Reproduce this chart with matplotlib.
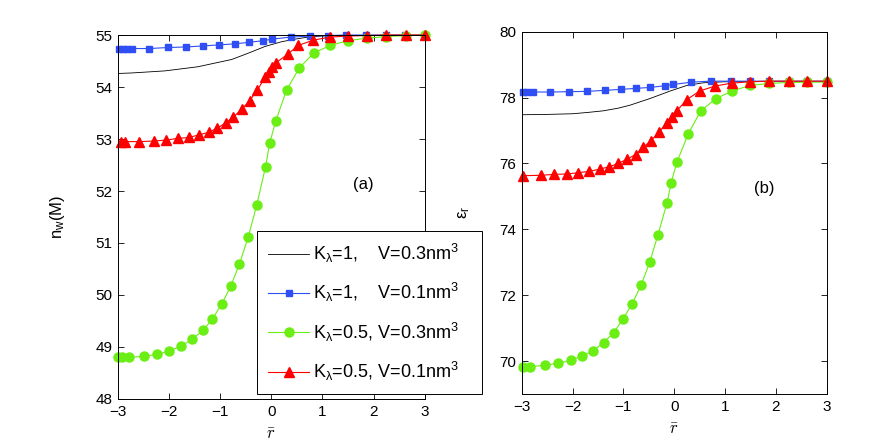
import matplotlib
matplotlib.use('Agg')
import matplotlib.pyplot as plt

plt.rcParams['font.family'] = ['Liberation Sans', 'DejaVu Sans']
plt.rcParams['mathtext.fontset'] = 'custom'
plt.rcParams['mathtext.rm'] = 'Liberation Sans'
plt.rcParams['mathtext.it'] = 'Liberation Sans:italic'

BLUE = '#2f4ff5'
GREEN = '#6aee14'
RED = '#ff0000'

labels = [r'K$_{\mathrm{\lambda}}$=1,    V=0.3nm$^3$',
          r'K$_{\mathrm{\lambda}}$=1,    V=0.1nm$^3$',
          r'K$_{\mathrm{\lambda}}$=0.5, V=0.3nm$^3$',
          r'K$_{\mathrm{\lambda}}$=0.5, V=0.1nm$^3$']

# ---- panel (a): n_w(M)
a_black_x = [-3.0, -2.73, -2.4, -2.08, -1.75, -1.43, -1.1, -0.77, -0.45, -0.12,
             0.2, 0.46, 0.72, 0.98, 1.5, 2.0, 3.0]
a_black_y = [54.26, 54.27, 54.29, 54.31, 54.35, 54.39, 54.46, 54.53, 54.65, 54.78,
             54.87, 54.92, 54.96, 54.98, 55.0, 55.0, 55.0]

a_blue_x = [-2.97, -2.9, -2.82, -2.73, -2.38, -2.01, -1.67, -1.33, -1.02, -0.71,
            -0.43, -0.16, 0.01, 0.38, 0.76, 1.11, 1.47, 1.86, 2.25, 2.62, 3.0]
a_blue_y = [54.74, 54.74, 54.74, 54.74, 54.74, 54.76, 54.77, 54.79, 54.81, 54.83,
            54.86, 54.89, 54.92, 54.96, 54.98, 54.99, 55.0, 55.0, 55.0, 55.0, 55.0]

a_green_x = [-3.0, -2.92, -2.78, -2.49, -2.23, -1.99, -1.76, -1.54, -1.33, -1.15,
             -0.97, -0.79, -0.62, -0.45, -0.28, -0.11, -0.03, 0.09, 0.3, 0.55,
             0.83, 1.15, 1.5, 1.87, 2.25, 2.63, 3.0]
a_green_y = [48.8, 48.8, 48.8, 48.82, 48.86, 48.92, 49.02, 49.15, 49.32, 49.54,
             49.82, 50.17, 50.6, 51.11, 51.74, 52.47, 52.92, 53.35, 53.94, 54.37,
             54.65, 54.8, 54.89, 54.94, 54.97, 54.99, 55.0]

a_red_x = [-2.93, -2.86, -2.58, -2.3, -2.06, -1.83, -1.61, -1.41, -1.22, -1.05,
           -0.89, -0.74, -0.57, -0.42, -0.27, -0.12, -0.05, 0.02, 0.1, 0.32,
           0.53, 0.82, 1.14, 1.5, 1.87, 2.25, 2.63, 3.0]
a_red_y = [52.95, 52.95, 52.95, 52.96, 52.98, 53.01, 53.03, 53.08, 53.13, 53.21,
           53.31, 53.42, 53.58, 53.74, 53.94, 54.19, 54.29, 54.39, 54.47, 54.63,
           54.8, 54.9, 54.96, 54.98, 54.99, 55.0, 55.0, 55.0]

# ---- panel (b): epsilon_r
b_black_x = [-3.0, -2.5, -2.0, -1.7, -1.39, -1.1, -0.87, -0.48, -0.08, 0.25,
             0.57, 0.97, 1.5, 2.0, 3.0]
b_black_y = [77.48, 77.49, 77.51, 77.55, 77.6, 77.68, 77.77, 77.97, 78.2, 78.37,
             78.45, 78.48, 78.49, 78.49, 78.49]

b_blue_x = [-2.98, -2.9, -2.77, -2.44, -2.07, -1.71, -1.37, -1.05, -0.76, -0.47,
            -0.18, -0.02, 0.34, 0.72, 1.12, 1.49, 1.87, 2.25, 2.62, 3.0]
b_blue_y = [78.17, 78.17, 78.17, 78.17, 78.18, 78.19, 78.22, 78.25, 78.28, 78.31,
            78.36, 78.4, 78.47, 78.5, 78.5, 78.5, 78.5, 78.5, 78.5, 78.5]

b_green_x = [-2.98, -2.84, -2.55, -2.29, -2.04, -1.81, -1.59, -1.39, -1.19, -1.01,
             -0.83, -0.65, -0.48, -0.32, -0.14, -0.06, 0.05, 0.28, 0.52, 0.82,
             1.14, 1.49, 1.87, 2.25, 2.62, 3.0]
b_green_y = [69.83, 69.83, 69.87, 69.93, 70.02, 70.15, 70.32, 70.56, 70.86, 71.27,
             71.73, 72.31, 73.01, 73.83, 74.81, 75.41, 76.03, 76.91, 77.59, 77.97,
             78.2, 78.37, 78.43, 78.46, 78.47, 78.47]

b_red_x = [-2.97, -2.63, -2.36, -2.11, -1.89, -1.67, -1.46, -1.28, -1.1, -0.93,
           -0.76, -0.61, -0.46, -0.29, -0.15, -0.05, 0.05, 0.25, 0.5, 0.8,
           1.13, 1.49, 1.87, 2.25, 2.62, 3.0]
b_red_y = [75.63, 75.64, 75.67, 75.68, 75.72, 75.76, 75.83, 75.9, 76.0, 76.13,
           76.27, 76.49, 76.69, 76.96, 77.24, 77.42, 77.6, 77.94, 78.2, 78.35,
           78.44, 78.48, 78.5, 78.5, 78.5, 78.5]

fig = plt.figure(figsize=(8.85, 4.46), dpi=100)
ax1 = fig.add_axes([0.1330, 0.1054, 0.3469, 0.8161])
ax2 = fig.add_axes([0.5895, 0.1166, 0.3446, 0.8122])


def draw(ax, bx, by, ux, uy, gx, gy, rx, ry):
    h = []
    h += ax.plot(bx, by, '-', color='k', lw=0.6, label=labels[0])
    h += ax.plot(ux, uy, '-s', color=BLUE, mec=BLUE, mfc=BLUE, lw=0.8, ms=5,
                 label=labels[1], clip_on=False)
    h += ax.plot(gx, gy, '-o', color=GREEN, mec=GREEN, mfc=GREEN, lw=0.8, ms=6.5,
                 label=labels[2], clip_on=False)
    h += ax.plot(rx, ry, '-^', color=RED, mec=RED, mfc=RED, lw=0.8, ms=7,
                 label=labels[3], clip_on=False)
    ax.set_xlim(-3, 3)
    ax.set_xticks([-3, -2, -1, 0, 1, 2, 3])
    ax.tick_params(direction='in', top=True, right=True, length=4, width=0.6,
                   labelsize=11, pad=4)
    for s in ax.spines.values():
        s.set_linewidth(0.7)
    ax.set_xlabel(r'$\bar{r}$', fontsize=12, math_fontfamily='cm', labelpad=6)
    return h


handles = draw(ax1, a_black_x, a_black_y, a_blue_x, a_blue_y,
               a_green_x, a_green_y, a_red_x, a_red_y)
ax1.set_ylim(48, 55)
ax1.set_yticks(range(48, 56))
ax1.set_ylabel(r'n$_{\mathrm{w}}$(M)', fontsize=12)
ax1.yaxis.set_label_coords(-0.165, 0.5)
ax1.text(1.8, 52.12, '(a)', fontsize=12, ha='center', va='center')

draw(ax2, b_black_x, b_black_y, b_blue_x, b_blue_y,
     b_green_x, b_green_y, b_red_x, b_red_y)
ax2.set_ylim(69, 80)
ax2.set_yticks([70, 72, 74, 76, 78, 80])
ax2.set_ylabel(r'$\mathrm{\epsilon}_{\mathrm{r}}$', fontsize=12)
ax2.yaxis.set_label_coords(-0.164, 0.5)
ax2.text(1.78, 75.25, '(b)', fontsize=12, ha='center', va='center')

leg = fig.legend(handles=handles, loc='lower left',
                 bbox_to_anchor=(257 / 885, 52 / 446, 225 / 885, 169 / 446),
                 mode='expand', fontsize=13, handlelength=2.3, handletextpad=0.2,
                 labelspacing=0.9, borderaxespad=0, borderpad=0.6,
                 fancybox=False, framealpha=1, edgecolor='k')
leg.get_frame().set_linewidth(0.7)

plt.savefig('out.png', dpi=100)
